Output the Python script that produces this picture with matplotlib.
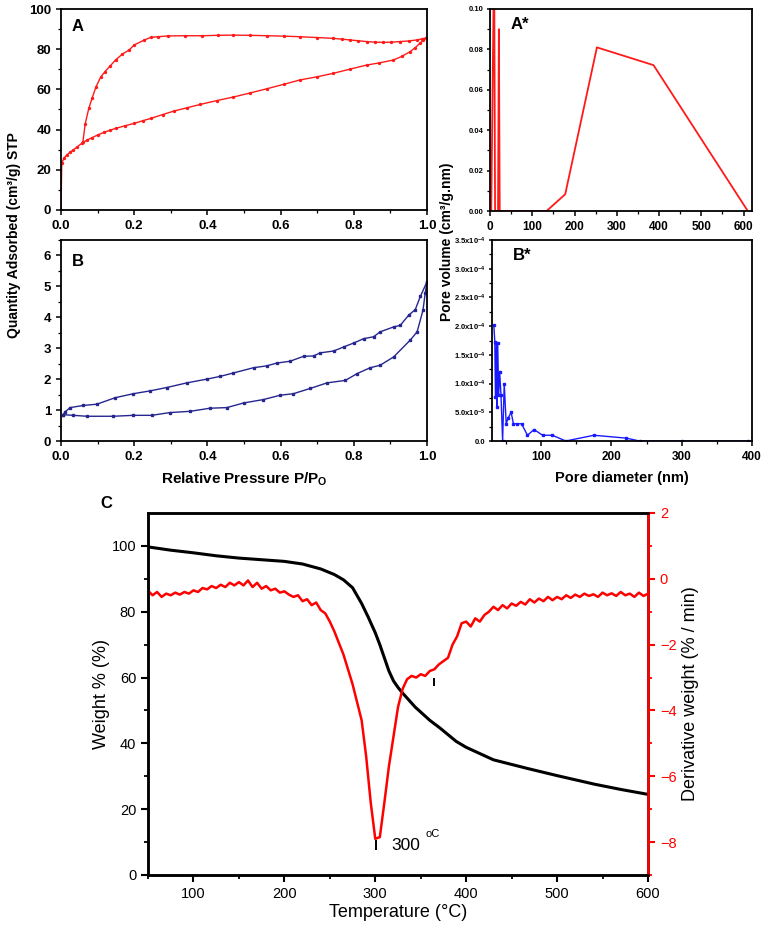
import numpy as np
import matplotlib
matplotlib.use("Agg")
import matplotlib.pyplot as plt
from matplotlib.ticker import MultipleLocator, FixedLocator

plt.rcParams['font.family'] = ['Liberation Sans', 'DejaVu Sans']
plt.rcParams['mathtext.fontset'] = 'custom'
plt.rcParams['mathtext.rm'] = 'Liberation Sans'
plt.rcParams['mathtext.bf'] = 'Liberation Sans:bold'
plt.rcParams['mathtext.default'] = 'regular'

# ---- panel A: N2 isotherm (cm3/g) ----
a_ads_p = [0.0, 0.002, 0.008, 0.016, 0.025, 0.034, 0.045, 0.057, 0.07, 0.085, 0.1, 0.117,
           0.133, 0.149, 0.175, 0.2, 0.223, 0.246, 0.278, 0.31, 0.345, 0.38, 0.425,
           0.471, 0.516, 0.562, 0.608, 0.653, 0.7, 0.744, 0.79, 0.835, 0.87, 0.908, 0.932,
           0.954, 0.968, 0.981, 0.99, 0.996, 1.0]
a_ads_q = [0.0, 23.2, 25.8, 27.4, 28.8, 29.9, 31.5, 33.2, 34.7, 36.0, 37.3, 38.6,
           39.6, 40.6, 41.9, 43.1, 44.4, 45.6, 47.5, 49.3, 50.9, 52.5, 54.4,
           56.2, 58.2, 60.3, 62.5, 64.7, 66.3, 68.0, 70.1, 72.1, 73.2, 74.6, 76.5,
           78.8, 80.8, 83.0, 84.4, 85.4, 85.8]
a_des_p = [1.0, 0.986, 0.972, 0.95, 0.926, 0.903, 0.881, 0.858, 0.835, 0.812, 0.79, 0.767,
           0.744, 0.7, 0.653, 0.608, 0.562, 0.516, 0.471, 0.428, 0.384, 0.338, 0.292,
           0.265, 0.246, 0.228, 0.2, 0.186, 0.168, 0.15, 0.135, 0.12, 0.108, 0.095, 0.085,
           0.076, 0.066, 0.06]
a_des_q = [85.8, 85.1, 84.6, 84.1, 83.8, 83.5, 83.4, 83.5, 83.8, 84.2, 84.6, 85.0,
           85.4, 85.8, 86.2, 86.5, 86.7, 86.9, 87.0, 86.9, 86.7, 86.7, 86.6,
           86.2, 85.9, 84.6, 82.1, 79.6, 77.6, 74.8, 71.8, 68.8, 66.0, 61.0, 55.6,
           50.6, 42.8, 34.0]

# ---- panel B ----
b_ads_p = [0.006, 0.034, 0.07, 0.143, 0.198, 0.248, 0.298, 0.353, 0.407, 0.453, 0.499, 0.553,
           0.599, 0.635, 0.681, 0.727, 0.777, 0.809, 0.845, 0.872, 0.909, 0.954, 0.973,
           0.989, 0.995, 1.0]
b_ads_q = [0.85, 0.83, 0.80, 0.80, 0.83, 0.83, 0.92, 0.96, 1.06, 1.08, 1.23, 1.34,
           1.48, 1.53, 1.70, 1.88, 1.96, 2.18, 2.37, 2.45, 2.72, 3.26, 3.53,
           4.23, 4.77, 5.15]
b_des_p = [1.0, 0.982, 0.968, 0.95, 0.927, 0.909, 0.872, 0.854, 0.827, 0.8, 0.772, 0.745,
           0.708, 0.69, 0.663, 0.626, 0.59, 0.562, 0.526, 0.471, 0.435, 0.398, 0.344,
           0.289, 0.243, 0.198, 0.148, 0.098, 0.061, 0.025, 0.011, 0.006]
b_des_q = [5.15, 4.68, 4.25, 4.07, 3.74, 3.69, 3.53, 3.37, 3.31, 3.17, 3.04, 2.91,
           2.85, 2.75, 2.74, 2.58, 2.52, 2.43, 2.37, 2.20, 2.09, 2.00, 1.88,
           1.73, 1.62, 1.53, 1.40, 1.19, 1.15, 1.08, 0.94, 0.85]

# ---- panel A*: pore size distribution ----
as_d = [3, 9, 10, 12, 19, 21, 23, 134, 178, 253, 387, 610]
as_v = [0.0, 0.115, 0.115, 0.0, 0.0, 0.090, 0.0, 0.0, 0.0083, 0.081, 0.0722, 0.0]

# ---- panel B* (x1e-4) ----
bs_d = [32.6, 34, 34.9, 36.3, 37.2, 38.1, 39.5, 40.9, 42.8, 45.1, 47.4, 50.2, 53, 57.2,
        60.5, 66, 72, 80.5, 89.8, 102, 116, 135, 175, 221, 240, 300, 395]
bs_v = [2.02, 1.73, 0.77, 1.70, 0.60, 1.70, 0.80, 1.20, 0.80, 0.0, 1.0, 0.30, 0.40, 0.50,
        0.30, 0.30, 0.30, 0.10, 0.20, 0.10, 0.10, 0.0, 0.10, 0.05, 0.0, 0.0, 0.0]

# ---- panel C: TGA / DTG ----
tga_t = [50, 75, 100, 125, 150, 175, 200, 220, 240, 255, 265, 275, 285, 292, 300, 305, 310,
         315, 320, 325, 330, 344, 360, 371, 389, 400, 430, 467, 500, 541, 570, 600]
tga_w = [99.7, 98.7, 97.9, 97.0, 96.3, 95.8, 95.3, 94.5, 93.0, 91.3, 89.7, 87.3, 82.5, 78.5,
         73.6, 70.0, 66.0, 62.0, 59.0, 57.0, 55.3, 51.0, 47.0, 44.7, 40.6, 38.8, 35.0, 32.4,
         30.2, 27.6, 26.0, 24.5]
dtg_t = list(range(50, 601, 5))
dtg_v = [-0.36, -0.5, -0.4, -0.55, -0.45, -0.5, -0.42, -0.48, -0.4, -0.45,
         -0.35, -0.4, -0.28, -0.32, -0.22, -0.28, -0.18, -0.25, -0.12, -0.2,
         -0.1, -0.2, -0.05, -0.25, -0.12, -0.3, -0.22, -0.35, -0.3, -0.42,
         -0.38, -0.48, -0.55, -0.5, -0.68, -0.62, -0.8, -0.72, -0.95, -1.05,
         -1.3, -1.6, -1.95, -2.3, -2.75, -3.2, -3.75, -4.3, -5.4, -6.8,
         -7.9, -7.85, -6.8, -5.7, -4.8, -3.9, -3.35, -3.05, -2.95, -3.0,
         -2.9, -2.95, -2.8, -2.75, -2.6, -2.5, -2.4, -2.0, -1.75, -1.35,
         -1.3, -1.45, -1.2, -1.3, -1.1, -1.0, -0.85, -0.95, -0.8, -0.9,
         -0.75, -0.82, -0.7, -0.78, -0.62, -0.72, -0.6, -0.68, -0.55, -0.65,
         -0.55, -0.62, -0.5, -0.58, -0.48, -0.55, -0.45, -0.52, -0.47, -0.55,
         -0.42, -0.5, -0.44, -0.52, -0.4, -0.5, -0.45, -0.55, -0.42, -0.52,
         -0.45]

W, H = 765, 926
fig = plt.figure(figsize=(W / 100, H / 100), dpi=100)


def box(l, t, r, b):
    return [l / W, 1 - b / H, (r - l) / W, (b - t) / H]


def style_top(ax, fs_x, fs_y):
    for s in ax.spines.values():
        s.set_linewidth(1.3)
    ax.tick_params(which='major', direction='out', length=3.5, width=1.1)
    ax.tick_params(which='minor', direction='out', length=2, width=0.9)
    ax.tick_params(top=False, right=False, which='both')
    for lab in ax.get_xticklabels():
        lab.set_fontsize(fs_x)
        lab.set_fontweight('bold')
    for lab in ax.get_yticklabels():
        lab.set_fontsize(fs_y)
        lab.set_fontweight('bold')


red = '#ff1a1a'

# A
axA = fig.add_axes(box(61, 9, 427, 210))
axA.plot(a_ads_p, a_ads_q, '-o', color=red, lw=1.0, ms=1.4)
axA.plot(a_des_p, a_des_q, '-o', color=red, lw=1.0, ms=1.4)
axA.set_xlim(0, 1)
axA.set_ylim(0, 100)
axA.xaxis.set_major_locator(MultipleLocator(0.2))
axA.xaxis.set_minor_locator(MultipleLocator(0.1))
axA.yaxis.set_major_locator(MultipleLocator(20))
axA.yaxis.set_minor_locator(MultipleLocator(10))
axA.set_xticklabels([f"{v:.1f}" for v in axA.get_xticks()])
style_top(axA, 9.5, 9.5)
axA.text(0.03, 0.95, "A", transform=axA.transAxes, fontsize=12, fontweight='bold', va='top')

# B
axB = fig.add_axes(box(61, 240, 427, 441))
axB.plot(b_ads_p, b_ads_q, '-s', color='#26268f', lw=1.0, ms=1.5)
axB.plot(b_des_p, b_des_q, '-s', color='#26268f', lw=1.0, ms=1.5)
axB.set_xlim(0, 1)
axB.set_ylim(0, 6.5)
axB.xaxis.set_major_locator(MultipleLocator(0.2))
axB.xaxis.set_minor_locator(MultipleLocator(0.1))
axB.yaxis.set_major_locator(MultipleLocator(1))
axB.yaxis.set_minor_locator(MultipleLocator(0.5))
axB.set_xticklabels([f"{v:.1f}" for v in axB.get_xticks()])
style_top(axB, 9.5, 9.5)
axB.text(0.03, 0.93, "B", transform=axB.transAxes, fontsize=12, fontweight='bold', va='top')
axB.set_xlabel(r"Relative Pressure P/P$_\mathbf{O}$", fontsize=11, fontweight='bold', labelpad=6)

fig.text(14 / W, 1 - 235 / H, "Quantity Adsorbed (cm³/g) STP", rotation=90, fontsize=10,
         fontweight='bold', ha='center', va='center')

# A*
axAs = fig.add_axes(box(490, 9, 752, 211))
axAs.plot(as_d, as_v, '-', color=red, lw=1.3)
axAs.set_xlim(0, 620)
axAs.set_ylim(0, 0.1)
axAs.xaxis.set_major_locator(MultipleLocator(100))
axAs.xaxis.set_minor_locator(MultipleLocator(50))
axAs.yaxis.set_major_locator(MultipleLocator(0.02))
axAs.yaxis.set_minor_locator(MultipleLocator(0.01))
axAs.set_yticklabels([f"{v:.2f}" for v in axAs.get_yticks()])
style_top(axAs, 8.5, 5.5)
axAs.tick_params(axis='y', which='major', length=2.5, pad=2)
axAs.text(0.08, 0.96, "A*", transform=axAs.transAxes, fontsize=12, fontweight='bold', va='top')

# B*
axBs = fig.add_axes(box(492, 240, 752, 441))
axBs.plot(bs_d, [v * 1e-4 for v in bs_v], '-s', color='#1a1aff', lw=1.0, ms=1.6)
axBs.set_xlim(30, 400)
axBs.set_ylim(0, 3.5e-4)
axBs.xaxis.set_major_locator(FixedLocator([100, 200, 300, 400]))
axBs.xaxis.set_minor_locator(FixedLocator([50, 150, 250, 350]))
bs_ticks = [0, 0.5e-4, 1e-4, 1.5e-4, 2e-4, 2.5e-4, 3e-4, 3.5e-4]
bs_labels = ["0.0", "5.0x10$^{-5}$", "1.0x10$^{-4}$", "1.5x10$^{-4}$", "2.0x10$^{-4}$",
             "2.5x10$^{-4}$", "3.0x10$^{-4}$", "3.5x10$^{-4}$"]
axBs.set_yticks(bs_ticks)
axBs.set_yticklabels(bs_labels)
axBs.yaxis.set_minor_locator(MultipleLocator(0.25e-4))
style_top(axBs, 8.5, 5.5)
axBs.tick_params(axis='y', which='major', length=2.5, pad=2)
axBs.text(0.08, 0.96, "B*", transform=axBs.transAxes, fontsize=12, fontweight='bold', va='top')
axBs.set_xlabel("Pore diameter (nm)", fontsize=10.5, fontweight='bold', labelpad=6)

fig.text(447 / W, 1 - 242 / H, "Pore volume (cm³/g.nm)", rotation=90, fontsize=10,
         fontweight='bold', ha='center', va='center')

# C
axC = fig.add_axes(box(148, 513, 648, 875))
axC.plot(tga_t, tga_w, '-', color='black', lw=2.2)
axC.set_xlim(50, 600)
axC.set_ylim(0, 110)
axC.xaxis.set_major_locator(MultipleLocator(100))
axC.xaxis.set_minor_locator(MultipleLocator(50))
axC.yaxis.set_major_locator(FixedLocator([0, 20, 40, 60, 80, 100]))
axC.yaxis.set_minor_locator(FixedLocator([10, 30, 50, 70, 90]))
axC.set_xlabel("Temperature (°C)", fontsize=13, labelpad=2)
axC.set_ylabel("Weight % (%)", fontsize=13, labelpad=1)

axD = axC.twinx()
axD.plot(dtg_t, dtg_v, '-', color='#ff0000', lw=1.8)
axD.set_ylim(-9, 2)
axD.yaxis.set_major_locator(FixedLocator([-8, -6, -4, -2, 0, 2]))
axD.yaxis.set_minor_locator(FixedLocator([-9, -7, -5, -3, -1, 1]))
axD.set_ylabel("Derivative weight (% / min)", fontsize=13, color='black', labelpad=4)
axD.vlines([301, 365], [-8.25, -3.25], [-7.95, -3.0], colors='black', lw=1.4)
axD.text(318, -8.1, "300", fontsize=12.5, va='center')
axD.text(355, -7.75, "oC", fontsize=8, va='center')

for ax in (axC, axD):
    for s in ax.spines.values():
        s.set_linewidth(1.8)
    ax.tick_params(which='major', direction='out', length=5, width=1.5, labelsize=10.5)
    ax.tick_params(which='minor', direction='out', length=3, width=1.3)
axD.spines['right'].set_color('red')
axD.tick_params(axis='y', which='both', colors='red')
axC.text(-0.096, 1.025, "C", transform=axC.transAxes, fontsize=12, fontweight='bold', va='center')

fig.savefig("out.png", dpi=100)
